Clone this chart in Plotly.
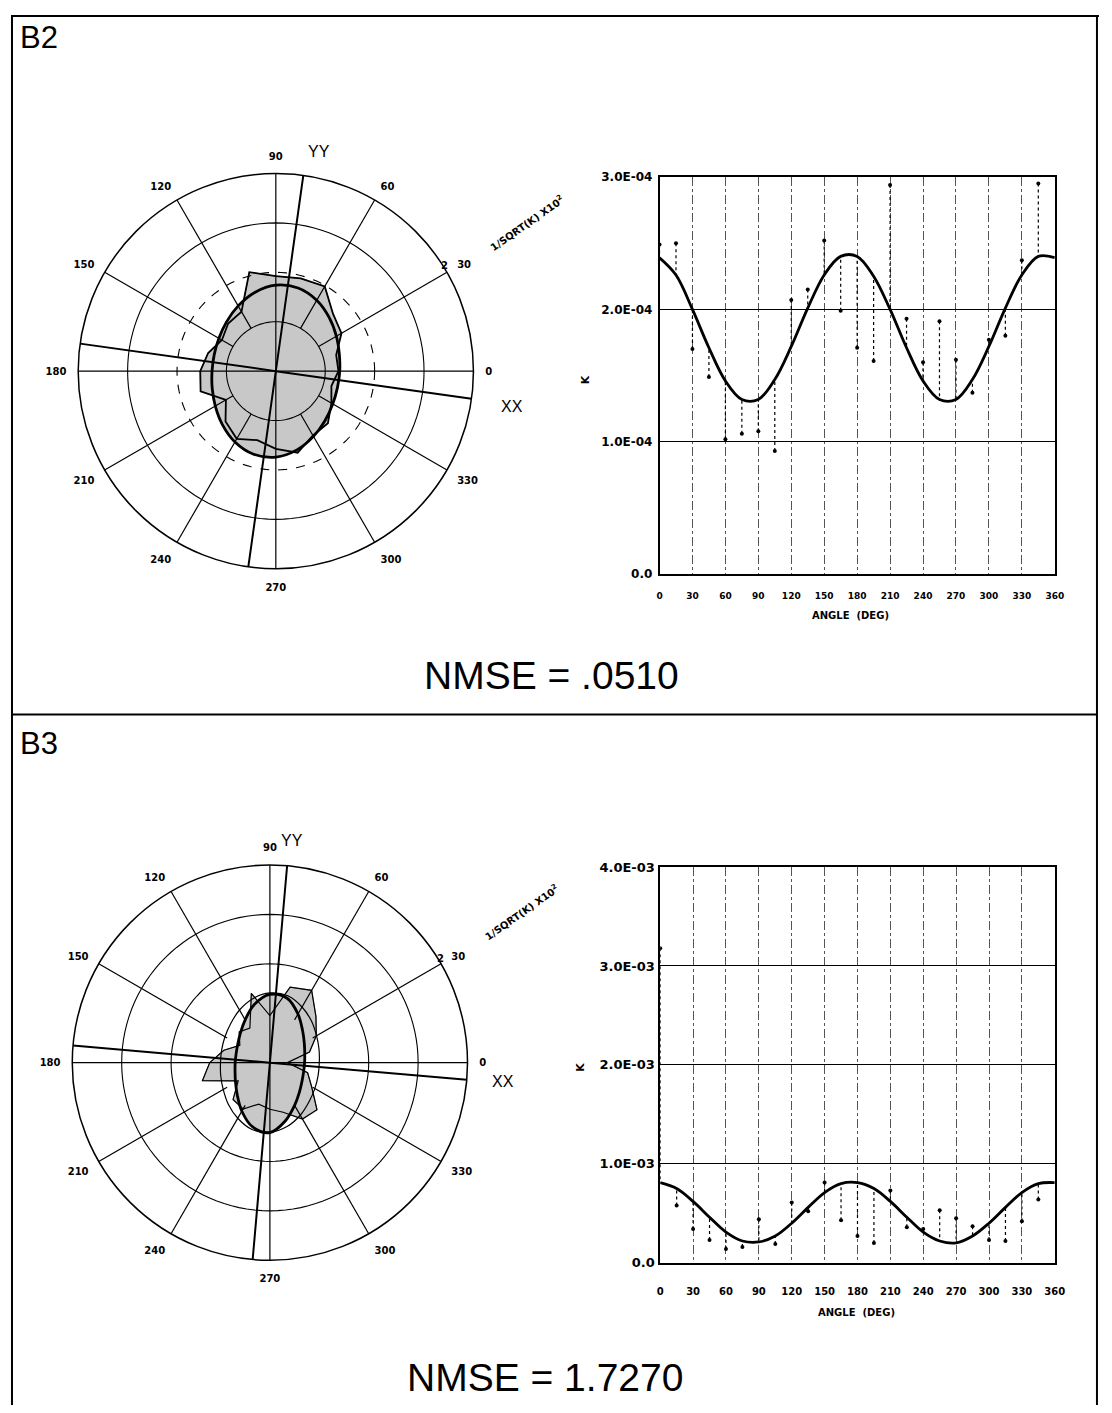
import math
import plotly.graph_objects as go

# page is 1112 x 1413 with the browser's default 8px body margin
PAGE_W, PAGE_H = 1112, 1413
OFF = 8
W, H = PAGE_W - 2 * OFF, PAGE_H - 2 * OFF

# ---------------- data ----------------
angles = [0, 15, 30, 45, 60, 75, 90, 105, 120, 135, 150, 165,
          180, 195, 210, 225, 240, 255, 270, 285, 300, 315, 330, 345]
fit_angles = [0, 15, 30, 45, 60, 75, 90, 105, 120, 135, 150, 165,
              180, 195, 210, 225, 240, 255, 270, 285, 300, 315, 330, 345, 360]

# Panel B2 : K values in units of 1E-04
b2_k_meas = [2.49, 2.50, 1.70, 1.49, 1.02, 1.06, 1.08, 0.93, 2.07, 2.15, 2.52, 1.99,
             1.71, 1.61, 2.94, 1.93, 1.60, 1.91, 1.62, 1.37, 1.77, 1.80, 2.37, 2.95]
b2_k_fit = [2.39, 2.26, 2.00, 1.71, 1.46, 1.32, 1.32, 1.47, 1.72, 2.01, 2.26, 2.40,
            2.40, 2.25, 2.00, 1.71, 1.46, 1.32, 1.32, 1.47, 1.72, 2.01, 2.26, 2.40, 2.39]
b2_unit = 1e-4
b2_xx_axis_deg = 352

# Panel B3 : K values in units of 1E-03
b3_k_meas = [3.18, 0.58, 0.34, 0.23, 0.14, 0.16, 0.44, 0.19, 0.61, 0.52, 0.81, 0.43,
             0.27, 0.20, 0.73, 0.36, 0.34, 0.53, 0.45, 0.37, 0.23, 0.22, 0.42, 0.64]
b3_k_fit = [0.81, 0.75, 0.62, 0.46, 0.31, 0.22, 0.21, 0.27, 0.40, 0.56, 0.71, 0.80,
            0.81, 0.75, 0.62, 0.46, 0.31, 0.22, 0.20, 0.27, 0.40, 0.56, 0.71, 0.80, 0.81]
b3_unit = 1e-3
b3_xx_axis_deg = 355
b3_thin_curve_r = [50, 51.5, 54.5, 59.5, 65, 70, 70.5, 67, 61.5, 56, 52.5, 50.5,
                   50, 51.5, 54.5, 59.5, 65, 70, 70.5, 67, 61.5, 56, 52.5, 50.5, 50]

angle_ticks = [0, 30, 60, 90, 120, 150, 180, 210, 240, 270, 300, 330, 360]
polar_ticks = [0, 30, 60, 90, 120, 150, 180, 210, 240, 270, 300, 330]
spoke_angles = [30, 60, 120, 150, 210, 240, 300, 330]
b2_ytick_vals = [0, 1e-4, 2e-4, 3e-4]
b2_ytick_text = ["0.0", "1.0E-04", "2.0E-04", "3.0E-04"]
b3_ytick_vals = [0, 1e-3, 2e-3, 3e-3, 4e-3]
b3_ytick_text = ["0.0", "1.0E-03", "2.0E-03", "3.0E-03", "4.0E-03"]
polar_rmax = 200


def fx(p):
    return (p - OFF) / W


def fy(p):
    return 1 - (p - OFF) / H


BOLD = dict(family="DejaVu Sans", weight="bold", color="black")
FILL = "#c8c8c8"

fig = go.Figure()


def add_polar(sub, k_meas, k_fit, unit, xx_deg, ring_styles, poly_w, thin_r=None):
    r_meas = [1 / math.sqrt(k * unit) for k in k_meas]
    r_fit = [1 / math.sqrt(k * unit) for k in k_fit]
    th_poly = angles + [angles[0]]
    r_poly = r_meas + [r_meas[0]]
    # shaded union of measured polygon and fitted curve
    fig.add_trace(go.Scatterpolar(r=r_poly, theta=th_poly, mode="lines", fill="toself",
                                  fillcolor=FILL, line=dict(color="black", width=0.5),
                                  subplot=sub, hoverinfo="skip"))
    fig.add_trace(go.Scatterpolar(r=r_fit, theta=fit_angles, mode="lines", fill="toself",
                                  fillcolor=FILL, line=dict(color=FILL, width=0, shape="spline"),
                                  subplot=sub, hoverinfo="skip"))
    # rings
    ring_theta = list(range(0, 361, 3))
    for rr, dash in ring_styles:
        fig.add_trace(go.Scatterpolar(r=[rr] * len(ring_theta), theta=ring_theta, mode="lines",
                                      line=dict(color="black", width=1.1, dash=dash),
                                      subplot=sub, hoverinfo="skip"))
    # spokes
    sr, st = [], []
    for a in spoke_angles:
        sr += [50, polar_rmax, None]
        st += [a, a, None]
    for a in [0, 90]:
        sr += [polar_rmax, 0, polar_rmax, None]
        st += [a, a, a + 180, None]
    fig.add_trace(go.Scatterpolar(r=sr, theta=st, mode="lines",
                                  line=dict(color="black", width=1.2),
                                  subplot=sub, hoverinfo="skip"))
    # principal axes XX / YY
    ar, at = [], []
    for a in [xx_deg, xx_deg + 90]:
        ar += [polar_rmax, 0, polar_rmax, None]
        at += [a, a, a + 180, None]
    fig.add_trace(go.Scatterpolar(r=ar, theta=at, mode="lines",
                                  line=dict(color="black", width=2),
                                  subplot=sub, hoverinfo="skip"))
    if thin_r is not None:
        fig.add_trace(go.Scatterpolar(r=thin_r, theta=fit_angles, mode="lines",
                                      line=dict(color="black", width=1.2, shape="spline"),
                                      subplot=sub, hoverinfo="skip"))
    # outline of measured polygon
    fig.add_trace(go.Scatterpolar(r=r_poly, theta=th_poly, mode="lines",
                                  line=dict(color="black", width=poly_w),
                                  subplot=sub, hoverinfo="skip"))
    # fitted curve
    fig.add_trace(go.Scatterpolar(r=r_fit, theta=fit_angles, mode="lines",
                                  line=dict(color="black", width=2.8, shape="spline"),
                                  subplot=sub, hoverinfo="skip"))


def add_cart(xa, ya, k_meas, k_fit, unit):
    km = [k * unit for k in k_meas]
    kf = [k * unit for k in k_fit]
    sx, sy = [], []
    for a, m, f in zip(angles, km, kf):
        sx += [a, a, None]
        sy += [m, f, None]
    fig.add_trace(go.Scatter(x=sx, y=sy, mode="lines", xaxis=xa, yaxis=ya,
                             line=dict(color="black", width=1.2, dash="dot"), hoverinfo="skip"))
    fig.add_trace(go.Scatter(x=fit_angles, y=kf, mode="lines", xaxis=xa, yaxis=ya,
                             line=dict(color="black", width=2.8, shape="spline", smoothing=1.0),
                             hoverinfo="skip"))
    fig.add_trace(go.Scatter(x=angles, y=km, mode="markers", xaxis=xa, yaxis=ya,
                             marker=dict(color="black", size=4), hoverinfo="skip"))


add_polar("polar", b2_k_meas, b2_k_fit, b2_unit, b2_xx_axis_deg,
          [(50, "solid"), (100, "dash"), (150, "solid")], 1.8)
add_polar("polar2", b3_k_meas, b3_k_fit, b3_unit, b3_xx_axis_deg,
          [(100, "solid"), (150, "solid")], 1.2, b3_thin_curve_r)
add_cart("x", "y", b2_k_meas, b2_k_fit, b2_unit)
add_cart("x2", "y2", b3_k_meas, b3_k_fit, b3_unit)


def polar_layout(cx, cy, r):
    return dict(
        domain=dict(x=[fx(cx - r), fx(cx + r)], y=[fy(cy + r), fy(cy - r)]),
        bgcolor="white",
        radialaxis=dict(visible=False, range=[0, polar_rmax]),
        angularaxis=dict(tickmode="array", tickvals=polar_ticks,
                         ticktext=[str(t) for t in polar_ticks],
                         showgrid=False, showline=True, linecolor="black", linewidth=1.5,
                         ticks="outside", ticklen=9, tickcolor="rgba(0,0,0,0)",
                         rotation=0, direction="counterclockwise",
                         tickfont=dict(size=10, **BOLD)),
    )


def xaxis_layout(x0, x1, anchor, ticklen, fsize):
    return dict(domain=[fx(x0), fx(x1)], anchor=anchor, range=[0, 360],
                tickmode="array", tickvals=angle_ticks, ticktext=[str(t) for t in angle_ticks],
                showgrid=True, gridcolor="#555", griddash="dashdot", gridwidth=1,
                showline=True, mirror=True, linecolor="black", linewidth=1.5,
                zeroline=False, ticks="outside", ticklen=ticklen, tickcolor="rgba(0,0,0,0)",
                tickfont=dict(size=fsize, **BOLD))


def yaxis_layout(y0, y1, anchor, vals, text, fsize, ticklen):
    return dict(domain=[fy(y1), fy(y0)], anchor=anchor, range=[vals[0], vals[-1]],
                tickmode="array", tickvals=vals, ticktext=text,
                showgrid=True, gridcolor="black", gridwidth=1,
                showline=True, mirror=True, linecolor="black", linewidth=1.5,
                zeroline=False, ticks="outside", ticklen=ticklen, tickcolor="rgba(0,0,0,0)",
                tickfont=dict(size=fsize, **BOLD))


annotations = []


def ann(x, y, text, size, family="Liberation Sans", weight="normal", angle=0, xanchor="center"):
    annotations.append(dict(x=fx(x), y=fy(y), xref="paper", yref="paper", text=text,
                            showarrow=False, xanchor=xanchor, yanchor="middle", textangle=angle,
                            font=dict(size=size, family=family, weight=weight, color="black")))


ann(15, 31, "B2", 31, xanchor="left")
ann(15, 744, "B3", 31, xanchor="left")
ann(555, 676, "NMSE = .0510", 39)
ann(548, 1385, "NMSE = 1.7270", 39)
ann(858, 615, "ANGLE  (DEG)", 10, family="DejaVu Sans", weight="bold")
ann(864, 1320, "ANGLE  (DEG)", 10, family="DejaVu Sans", weight="bold")
ann(589, 377, "K", 11, family="DejaVu Sans", weight="bold", angle=-90)
ann(584, 1072, "K", 11, family="DejaVu Sans", weight="bold", angle=-90)
ann(320, 146, "YY", 16)
ann(515, 404, "XX", 16)
ann(292, 842, "YY", 16)
ann(506, 1086, "XX", 16)
ann(530, 218, "1/SQRT(K) X10<sup>2</sup>", 10, family="DejaVu Sans", weight="bold", angle=-35)
ann(525, 915, "1/SQRT(K) X10<sup>2</sup>", 10, family="DejaVu Sans", weight="bold", angle=-35)
ann(447, 261, "2", 10, family="DejaVu Sans", weight="bold")
ann(443, 962, "2", 10, family="DejaVu Sans", weight="bold")

shapes = []
for (x0, y0, x1, y1) in [(8, 9, 1109, 9), (9, 8, 9, 1413), (1107, 8, 1107, 1413), (9, 715, 1107, 715)]:
    shapes.append(dict(type="line", xref="paper", yref="paper",
                       x0=fx(x0), y0=fy(y0), x1=fx(x1), y1=fy(y1),
                       line=dict(color="black", width=2)))

fig.update_layout(
    width=W, height=H, autosize=False,
    margin=dict(l=0, r=0, t=0, b=0, pad=0),
    paper_bgcolor="white", plot_bgcolor="white",
    showlegend=False,
    polar=polar_layout(276, 368, 200),
    polar2=polar_layout(270, 1067, 200),
    xaxis=xaxis_layout(664.3, 1064.3, "y", 12, 9),
    yaxis=yaxis_layout(171.7, 573.3, "x", b2_ytick_vals, b2_ytick_text, 12, 3),
    xaxis2=xaxis_layout(665, 1064.3, "y2", 18, 10),
    yaxis2=yaxis_layout(869.3, 1269.3, "x2", b3_ytick_vals, b3_ytick_text, 13, 1),
    annotations=annotations,
    shapes=shapes,
)

fig.write_html("out.html", config={"displayModeBar": False})
